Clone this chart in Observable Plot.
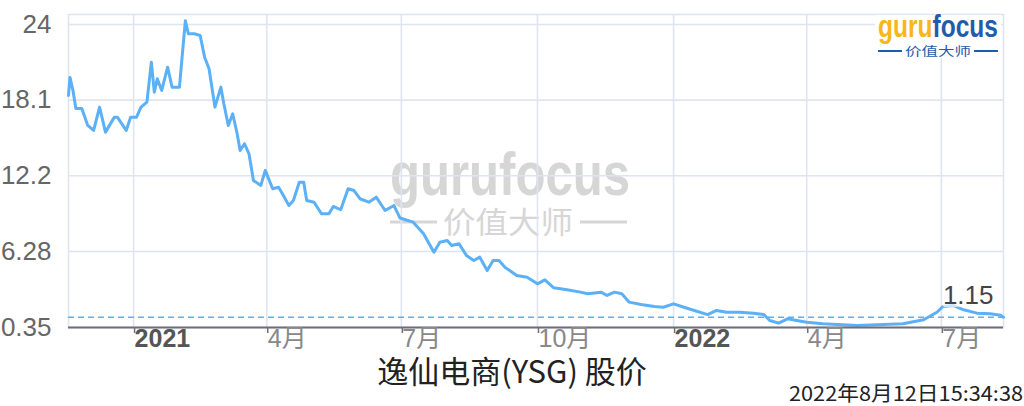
<!DOCTYPE html>
<html>
<head>
<meta charset="utf-8">
<script src="https://cdn.jsdelivr.net/npm/d3@7"></script>
<script src="https://cdn.jsdelivr.net/npm/@observablehq/plot@0.6"></script>
<style>
  html, body { margin: 0; padding: 0; background: white; }
  #wrap { position: relative; width: 1024px; height: 406px; overflow: hidden; background: white; }
  #wm, #logo { position: absolute; left: 0; top: 0; }
  #wm { z-index: 0; }
  #chart { position: relative; z-index: 1; height: 352px; }
  #logo { z-index: 2; pointer-events: none; }
  #title { position: relative; z-index: 1; height: 34px; line-height: 36px; text-align: center; font-family: "Noto Sans CJK SC", sans-serif; font-size: 31px; color: #222; }
</style>
</head>
<body>
<div id="wrap">
  <svg id="wm" width="1024" height="406">
    <text x="390" y="195" font-family="Liberation Sans, Arial, sans-serif" font-weight="bold" font-size="62" fill="#d6d6d6" textLength="240" lengthAdjust="spacingAndGlyphs">gurufocus</text>
    <line x1="390" x2="437" y1="222" y2="222" stroke="#d6d6d6" stroke-width="3"/>
    <line x1="580" x2="627" y1="222" y2="222" stroke="#d6d6d6" stroke-width="3"/>
    <text x="443" y="233" font-family="Noto Sans CJK SC, sans-serif" font-size="30" fill="#d6d6d6" textLength="130" lengthAdjust="spacingAndGlyphs">价值大师</text>
  </svg>
  <div id="chart"></div>
  <div id="title">逸仙电商(YSG) 股价</div>
  <svg id="logo" width="1024" height="406">
    <rect x="875" y="15" width="126" height="43" fill="white"/>
    <text x="878" y="37" font-family="Liberation Sans, Arial, sans-serif" font-weight="bold" font-size="32" textLength="120" lengthAdjust="spacingAndGlyphs"><tspan fill="#f7b718">guru</tspan><tspan fill="#1f5dab">focus</tspan></text>
    <line x1="878" x2="902" y1="51" y2="51" stroke="#1f5dab" stroke-width="2"/>
    <line x1="974" x2="998" y1="51" y2="51" stroke="#1f5dab" stroke-width="2"/>
    <text x="905" y="55.5" font-family="Noto Sans CJK SC, sans-serif" font-size="12" fill="#1f5dab" textLength="66" lengthAdjust="spacingAndGlyphs">价值大师</text>
    <text x="1023" y="401" text-anchor="end" font-family="Noto Sans CJK SC, sans-serif" font-size="20" fill="#222" textLength="234" lengthAdjust="spacingAndGlyphs">2022年8月12日15:34:38</text>
  </svg>
</div>
<script>
// ---- data ----
const dates = [
  "2020-11-18","2020-11-19","2020-11-21","2020-11-23","2020-11-27","2020-12-01","2020-12-05","2020-12-09","2020-12-13","2020-12-19","2020-12-21","2020-12-27","2020-12-30",
  "2021-01-03","2021-01-06","2021-01-10","2021-01-13","2021-01-15","2021-01-17","2021-01-20","2021-01-24","2021-01-27","2021-02-01","2021-02-03","2021-02-05","2021-02-07","2021-02-11","2021-02-15","2021-02-18","2021-02-21","2021-02-25","2021-03-01","2021-03-03","2021-03-06","2021-03-09","2021-03-12","2021-03-14","2021-03-17","2021-03-20","2021-03-23","2021-03-28","2021-03-31",
  "2021-04-05","2021-04-09","2021-04-11","2021-04-16","2021-04-19","2021-04-23","2021-04-26","2021-04-28","2021-05-03","2021-05-08","2021-05-13","2021-05-16","2021-05-21","2021-05-26","2021-05-30","2021-06-03","2021-06-09","2021-06-14","2021-06-20","2021-06-26","2021-06-30",
  "2021-07-09","2021-07-16","2021-07-23","2021-07-27","2021-08-01","2021-08-04","2021-08-09","2021-08-14","2021-08-19","2021-08-23","2021-08-28","2021-09-01","2021-09-05","2021-09-09","2021-09-17","2021-09-24","2021-10-01","2021-10-06","2021-10-12","2021-10-21","2021-10-30","2021-11-04","2021-11-13","2021-11-17","2021-11-22","2021-11-27","2021-12-02","2021-12-10","2021-12-19","2021-12-25",
  "2022-01-01","2022-01-08","2022-01-15","2022-01-24","2022-01-30","2022-02-06","2022-02-15","2022-02-24","2022-03-03","2022-03-07","2022-03-13","2022-03-19","2022-03-28","2022-04-01","2022-04-12","2022-05-05","2022-05-23","2022-06-05","2022-06-19","2022-06-28","2022-07-02","2022-07-09","2022-07-16","2022-07-25","2022-08-03","2022-08-10","2022-08-12"
];
const prices = [
  18.46,19.87,18.85,17.45,17.45,16.12,15.73,17.55,15.6,16.77,16.77,15.73,16.77,
  16.77,17.55,17.94,21.06,18.72,19.76,18.85,20.67,19.11,19.11,21.72,24.3,23.28,23.28,23.14,21.45,20.55,17.55,19.11,17.81,16.12,17.03,15.47,14.17,14.69,13.91,11.83,11.44,12.61,
  11.18,11.3,10.91,9.87,10.26,11.69,11.69,10.26,10.13,9.23,9.23,9.8,9.54,11.18,11.04,10.4,10.13,10.52,9.48,9.87,8.9,
  8.57,7.66,6.23,7.01,7.14,6.75,6.88,5.97,5.58,5.84,4.8,5.58,5.58,5.06,4.41,4.28,3.76,4.07,3.45,3.29,3.11,2.98,3.11,2.85,3.11,2.98,2.33,2.15,1.99,1.93,
  2.2,1.93,1.68,1.36,1.68,1.54,1.54,1.47,1.36,0.9,0.69,1.03,0.84,0.76,0.64,0.51,0.58,0.64,0.95,1.54,1.99,2.07,1.73,1.47,1.42,1.3,1.15
];
const yTicks = [0.35, 6.28, 12.2, 18.1, 24];
const xTickDates = ["2021-01-01","2021-04-01","2021-07-01","2021-10-01","2022-01-01","2022-04-01","2022-07-01"];
const xTickLabels = ["2021","4月","7月","10月","2022","4月","7月"];
const xTickIsYear = [true,false,false,false,true,false,false];
const lastPrice = 1.15;
const lastLabel = "1.15";
const domainStart = "2020-11-18";
const domainEnd = "2022-08-12";

// ---- build ----
const parse = d3.utcParse("%Y-%m-%d");
const series = dates.map((d, i) => ({date: parse(d), price: prices[i]}));
const tickObjs = xTickDates.map((d, i) => ({date: parse(d), label: xTickLabels[i], year: xTickIsYear[i]}));
const labelOf = new Map(tickObjs.map(t => [+t.date, t.label]));
const yearTicks = tickObjs.filter(t => t.year).map(t => t.date);
const monthTicks = tickObjs.filter(t => !t.year).map(t => t.date);
const allTicks = tickObjs.map(t => t.date);
const last = series[series.length - 1];

const gridColor = "#dfe4f1";
const axisColor = "#6f6f79";
const lineColor = "#5cb0f5";
const font = "Liberation Sans, Arial, 'Noto Sans CJK SC', sans-serif";

const chart = Plot.plot({
  width: 1024,
  height: 352,
  marginLeft: 68,
  marginRight: 21,
  marginTop: 14,
  marginBottom: 25,
  style: {background: "transparent", fontFamily: font, overflow: "visible"},
  x: {type: "utc", domain: [parse(domainStart), parse(domainEnd)], label: null},
  y: {domain: [0.35, 24.78], label: null},
  marks: [
    Plot.gridX(allTicks, {stroke: gridColor, strokeOpacity: 1, strokeWidth: 1.6}),
    Plot.gridY(yTicks, {stroke: gridColor, strokeOpacity: 1, strokeWidth: 1.6}),
    Plot.frame({stroke: gridColor, strokeWidth: 1.6}),
    Plot.axisY(yTicks, {label: null, tickSize: 0, tickPadding: 17, fontSize: 26, fill: "#666", tickFormat: d => String(d)}),
    Plot.ruleY([lastPrice], {stroke: lineColor, strokeWidth: 1.5, strokeDasharray: "6,4"}),
    Plot.lineY(series, {x: "date", y: "price", stroke: lineColor, strokeWidth: 3, strokeLinejoin: "round", strokeLinecap: "round"}),
    Plot.ruleY([0.35], {stroke: axisColor, strokeWidth: 1.8}),
    Plot.axisX(yearTicks, {label: null, tickSize: 6, tickPadding: -4, textAnchor: "start", dx: 1, fontSize: 25, fontWeight: "bold", fill: "#555", stroke: axisColor, strokeWidth: 1.5, tickFormat: d => labelOf.get(+d)}),
    Plot.axisX(monthTicks, {label: null, tickSize: 6, tickPadding: -4, textAnchor: "start", dx: 1, fontSize: 25, fill: "#888", stroke: axisColor, strokeWidth: 1.5, tickFormat: d => labelOf.get(+d)}),
    Plot.text([last], {x: "date", y: "price", text: () => lastLabel, textAnchor: "end", dx: -10, dy: -22, fontSize: 26, fill: "#444", stroke: "white", strokeOpacity: 0.7, strokeWidth: 6})
  ]
});
document.getElementById("chart").appendChild(chart);
</script>
</body>
</html>
